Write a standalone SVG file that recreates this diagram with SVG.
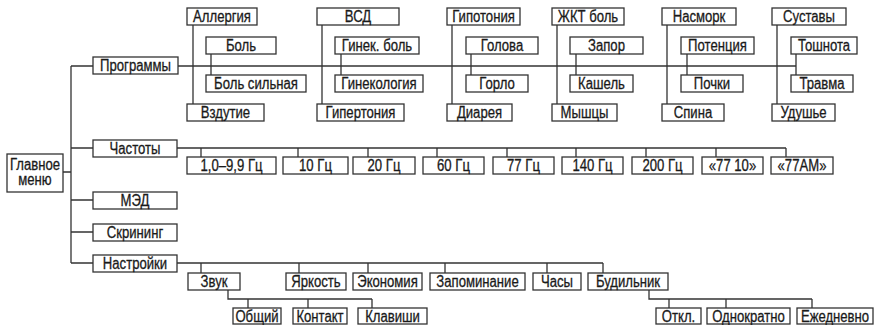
<svg xmlns="http://www.w3.org/2000/svg" width="875" height="325" viewBox="0 0 875 325">
<style>
.b{fill:#fff;stroke:#333;stroke-width:1.3}
.l{fill:none;stroke:#333;stroke-width:1.3}
text{font-family:"Liberation Sans",Arial,sans-serif;font-size:16px;text-anchor:middle;fill:#1a1a1a;stroke:#1a1a1a;stroke-width:0.3}
</style>
<rect width="875" height="325" fill="#fff"/>
<g id="connectors" class="l">
<path d="M63,172H71M71,66V263M71,66H93M71,148H93M71,200H93M71,232H93M71,263H93"/>
<path d="M178,66H796"/>
<path d="M193,25V104M211,54V75M322,25V104M341,54V75M452,25V104M471,54V75M557,25V104M576,54V75M667,25V104M687,54V75M777,25V104M796,54V75"/>
<path d="M177,148H786M201,148V157M298,148V157M368,148V157M437,148V157M507,148V157M576,148V157M646,148V157M716,148V157M786,148V157"/>
<path d="M177,263H603M201,263V273M299,263V273M368,263V273M445,263V273M547,263V273M603,263V273"/>
<path d="M228,290V299H372M248,299V308M308,299V308M372,299V308"/>
<path d="M649,290V299H812M669,299V308M726,299V308M812,299V308"/>
</g>
<g id="main"><rect class="b" x="7" y="154" width="56" height="38"/><text transform="translate(35,169.5) scale(0.82,1)">Главное</text><text transform="translate(35,185) scale(0.82,1)">меню</text></g>
<g id="programs"><rect class="b" x="93" y="57" width="85" height="17"/><text transform="translate(135.5,70.8) scale(0.82,1)">Программы</text></g>
<g id="freq"><rect class="b" x="93" y="140" width="84" height="17"/><text transform="translate(135,153.8) scale(0.82,1)">Частоты</text></g>
<g id="med"><rect class="b" x="93" y="192" width="84" height="17"/><text transform="translate(135,205.8) scale(0.82,1)">МЭД</text></g>
<g id="screen"><rect class="b" x="93" y="224" width="84" height="17"/><text transform="translate(135,237.8) scale(0.82,1)">Скрининг</text></g>
<g id="settings"><rect class="b" x="93" y="255" width="84" height="17"/><text transform="translate(135,268.8) scale(0.82,1)">Настройки</text></g>

<g id="p-allergy"><rect class="b" x="187" y="8" width="70" height="17"/><text transform="translate(222,21.8) scale(0.82,1)">Аллергия</text></g>
<g id="p-bol"><rect class="b" x="206" y="37" width="70" height="17"/><text transform="translate(241,50.8) scale(0.82,1)">Боль</text></g>
<g id="p-bolsil"><rect class="b" x="206" y="75" width="100" height="17"/><text transform="translate(256,88.8) scale(0.82,1)">Боль сильная</text></g>
<g id="p-vzd"><rect class="b" x="187" y="104" width="77" height="17"/><text transform="translate(225.5,117.8) scale(0.82,1)">Вздутие</text></g>

<g id="p-vsd"><rect class="b" x="317" y="8" width="82" height="17"/><text transform="translate(358,21.8) scale(0.82,1)">ВСД</text></g>
<g id="p-ginb"><rect class="b" x="335" y="37" width="84" height="17"/><text transform="translate(377,50.8) scale(0.82,1)">Гинек. боль</text></g>
<g id="p-gin"><rect class="b" x="335" y="75" width="88" height="17"/><text transform="translate(379,88.8) scale(0.82,1)">Гинекология</text></g>
<g id="p-giper"><rect class="b" x="317" y="104" width="87" height="17"/><text transform="translate(360.5,117.8) scale(0.82,1)">Гипертония</text></g>

<g id="p-gipo"><rect class="b" x="447" y="8" width="73" height="17"/><text transform="translate(483.5,21.8) scale(0.82,1)">Гипотония</text></g>
<g id="p-gol"><rect class="b" x="466" y="37" width="72" height="17"/><text transform="translate(502,50.8) scale(0.82,1)">Голова</text></g>
<g id="p-gor"><rect class="b" x="466" y="75" width="62" height="17"/><text transform="translate(497,88.8) scale(0.82,1)">Горло</text></g>
<g id="p-diar"><rect class="b" x="447" y="104" width="65" height="17"/><text transform="translate(479.5,117.8) scale(0.82,1)">Диарея</text></g>

<g id="p-zhkt"><rect class="b" x="552" y="8" width="72" height="17"/><text transform="translate(588,21.8) scale(0.82,1)">ЖКТ боль</text></g>
<g id="p-zap"><rect class="b" x="570" y="37" width="73" height="17"/><text transform="translate(606.5,50.8) scale(0.82,1)">Запор</text></g>
<g id="p-kash"><rect class="b" x="570" y="75" width="63" height="17"/><text transform="translate(601.5,88.8) scale(0.82,1)">Кашель</text></g>
<g id="p-mysh"><rect class="b" x="552" y="104" width="65" height="17"/><text transform="translate(584.5,117.8) scale(0.82,1)">Мышцы</text></g>

<g id="p-nasm"><rect class="b" x="662" y="8" width="74" height="17"/><text transform="translate(699,21.8) scale(0.82,1)">Насморк</text></g>
<g id="p-pot"><rect class="b" x="681" y="37" width="73" height="17"/><text transform="translate(717.5,50.8) scale(0.82,1)">Потенция</text></g>
<g id="p-poch"><rect class="b" x="681" y="75" width="62" height="17"/><text transform="translate(712,88.8) scale(0.82,1)">Почки</text></g>
<g id="p-spina"><rect class="b" x="662" y="104" width="62" height="17"/><text transform="translate(693,117.8) scale(0.82,1)">Спина</text></g>

<g id="p-sust"><rect class="b" x="772" y="8" width="74" height="17"/><text transform="translate(809,21.8) scale(0.82,1)">Суставы</text></g>
<g id="p-tosh"><rect class="b" x="791" y="37" width="66" height="17"/><text transform="translate(824,50.8) scale(0.82,1)">Тошнота</text></g>
<g id="p-travma"><rect class="b" x="791" y="75" width="62" height="17"/><text transform="translate(822,88.8) scale(0.82,1)">Травма</text></g>
<g id="p-udush"><rect class="b" x="772" y="104" width="63" height="17"/><text transform="translate(803.5,117.8) scale(0.82,1)">Удушье</text></g>

<g id="f1"><rect class="b" x="187" y="157" width="89" height="17"/><text transform="translate(231.5,170.8) scale(0.82,1)">1,0–9,9 Гц</text></g>
<g id="f2"><rect class="b" x="283" y="157" width="65" height="17"/><text transform="translate(315.5,170.8) scale(0.82,1)">10 Гц</text></g>
<g id="f3"><rect class="b" x="353" y="157" width="62" height="17"/><text transform="translate(384,170.8) scale(0.82,1)">20 Гц</text></g>
<g id="f4"><rect class="b" x="423" y="157" width="61" height="17"/><text transform="translate(453.5,170.8) scale(0.82,1)">60 Гц</text></g>
<g id="f5"><rect class="b" x="493" y="157" width="61" height="17"/><text transform="translate(523.5,170.8) scale(0.82,1)">77 Гц</text></g>
<g id="f6"><rect class="b" x="562" y="157" width="61" height="17"/><text transform="translate(592.5,170.8) scale(0.82,1)">140 Гц</text></g>
<g id="f7"><rect class="b" x="632" y="157" width="61" height="17"/><text transform="translate(662.5,170.8) scale(0.82,1)">200 Гц</text></g>
<g id="f8"><rect class="b" x="702" y="157" width="61" height="17"/><text transform="translate(732.5,170.8) scale(0.82,1)">«77 10»</text></g>
<g id="f9"><rect class="b" x="771" y="157" width="62" height="17"/><text transform="translate(802,170.8) scale(0.82,1)">«77AM»</text></g>

<g id="s-zvuk"><rect class="b" x="188" y="273" width="52" height="17"/><text transform="translate(214,286.8) scale(0.82,1)">Звук</text></g>
<g id="s-yark"><rect class="b" x="286" y="273" width="60" height="17"/><text transform="translate(316,286.8) scale(0.82,1)">Яркость</text></g>
<g id="s-econ"><rect class="b" x="353" y="273" width="69" height="17"/><text transform="translate(387.5,286.8) scale(0.82,1)">Экономия</text></g>
<g id="s-zapom"><rect class="b" x="430" y="273" width="95" height="17"/><text transform="translate(477.5,286.8) scale(0.82,1)">Запоминание</text></g>
<g id="s-chasy"><rect class="b" x="533" y="273" width="48" height="17"/><text transform="translate(557,286.8) scale(0.82,1)">Часы</text></g>
<g id="s-bud"><rect class="b" x="588" y="273" width="80" height="17"/><text transform="translate(628,286.8) scale(0.82,1)">Будильник</text></g>

<g id="z-ob"><rect class="b" x="233" y="308" width="48" height="16"/><text transform="translate(257,321.5) scale(0.82,1)">Общий</text></g>
<g id="z-kont"><rect class="b" x="293" y="308" width="54" height="16"/><text transform="translate(320,321.5) scale(0.82,1)">Контакт</text></g>
<g id="z-klav"><rect class="b" x="358" y="308" width="69" height="16"/><text transform="translate(392.5,321.5) scale(0.82,1)">Клавиши</text></g>

<g id="b-otkl"><rect class="b" x="656" y="308" width="45" height="16"/><text transform="translate(678.5,321.5) scale(0.82,1)">Откл.</text></g>
<g id="b-odn"><rect class="b" x="707" y="308" width="83" height="16"/><text transform="translate(748.5,321.5) scale(0.82,1)">Однократно</text></g>
<g id="b-ezh"><rect class="b" x="797" y="308" width="76" height="16"/><text transform="translate(835,321.5) scale(0.82,1)">Ежедневно</text></g>
</svg>
